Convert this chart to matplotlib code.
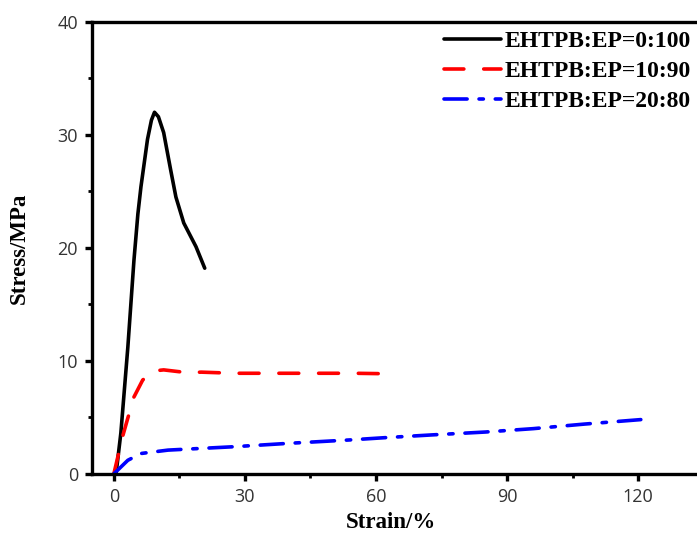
import numpy as np
import matplotlib
matplotlib.use("Agg")
import matplotlib.pyplot as plt
from matplotlib.ticker import MultipleLocator

# Stress-strain curves
strain_0_100 = [0.5, 1.6, 3.2, 4.6, 5.5, 6.2, 7.7, 8.6, 9.3, 10.2, 11.4, 13.0, 14.2, 16.0, 18.8, 20.8]
stress_0_100 = [0.0, 3.6, 11.2, 18.9, 23.0, 25.4, 29.6, 31.3, 32.0, 31.6, 30.2, 26.9, 24.5, 22.2, 20.1, 18.2]

strain_10_90 = [0.0, 2.0, 3.1, 4.6, 6.6, 9.0, 11.4, 16.9, 20.0, 27.5, 40.0, 55.0, 64.0]
stress_10_90 = [0.0, 3.3, 4.8, 6.8, 8.3, 9.1, 9.2, 8.95, 9.0, 8.9, 8.9, 8.9, 8.85]

strain_20_80 = [0.0, 3.2, 6.2, 12.4, 27.5, 40.0, 54.0, 62.0, 73.0, 85.0, 96.0, 107.6, 120.6]
stress_20_80 = [0.0, 1.2, 1.8, 2.1, 2.4, 2.7, 3.0, 3.2, 3.45, 3.7, 4.0, 4.4, 4.8]

labels = ["EHTPB:EP=0:100", "EHTPB:EP=10:90", "EHTPB:EP=20:80"]

serif = ["Liberation Serif", "DejaVu Serif"]
sans = ["Open Sans", "DejaVu Sans"]

fig = plt.figure(figsize=(6.97, 5.33), dpi=100)
ax = fig.add_axes([0.132, 0.111, 0.909, 0.848])

lw = 2.6
ax.plot(strain_0_100, stress_0_100, color="black", linestyle="-", linewidth=lw,
        label=labels[0], solid_capstyle="round")
ax.plot(strain_10_90, stress_10_90, color="red", linewidth=lw, dashes=(5.5, 5.5),
        label=labels[1], dash_capstyle="round")
ax.plot(strain_20_80, stress_20_80, color="blue", linewidth=lw, dashes=(6.4, 3.3, 1.2, 3.3),
        label=labels[2], dash_capstyle="round")

ax.set_xlim(-5, 140)
ax.set_ylim(0, 40)
ax.xaxis.set_major_locator(MultipleLocator(30))
ax.xaxis.set_minor_locator(MultipleLocator(15))
ax.yaxis.set_major_locator(MultipleLocator(10))
ax.yaxis.set_minor_locator(MultipleLocator(5))

for sp in ax.spines.values():
    sp.set_linewidth(2.4)
ax.tick_params(which="major", direction="out", length=5, width=2.4, labelsize=13, pad=5)
ax.tick_params(which="minor", direction="out", length=3, width=2.0)
for t in ax.get_xticklabels() + ax.get_yticklabels():
    t.set_family(sans)
    t.set_color("#333333")

ax.set_xlabel("Strain/%", fontsize=16.5, fontweight="bold", family=serif)
ax.set_ylabel("Stress/MPa", fontsize=16.5, fontweight="bold", family=serif)
ax.xaxis.set_label_coords(0.472, -0.085)
ax.yaxis.set_label_coords(-0.098, 0.5)

leg = ax.legend(loc="upper right", bbox_to_anchor=(1.021, 0.982), bbox_transform=fig.transFigure,
                frameon=False, handlelength=2.4, handletextpad=0.15, labelspacing=0.36,
                prop={"family": serif, "weight": "bold", "size": 17})

fig.savefig("out.png", dpi=100)
